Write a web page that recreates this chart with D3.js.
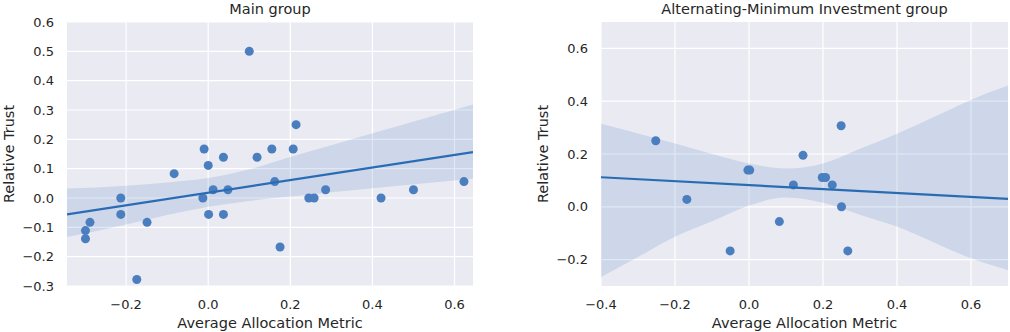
<!DOCTYPE html>
<html>
<head>
<meta charset="utf-8">
<script src="https://cdn.jsdelivr.net/npm/d3@7"></script>
<style>
  body { margin: 0; background: #fff; }
  text { font-family: "DejaVu Sans", sans-serif; fill: #262626; }
</style>
</head>
<body>
<script>
  // Main group data
  const mainX = [0.1, -0.01, 0.0, 0.037, 0.119, 0.155, 0.207, 0.214,
    -0.083, -0.213, -0.213, -0.149, -0.288, -0.299, -0.299, -0.174,
    -0.013, 0.001, 0.012, 0.048, 0.037, 0.162, 0.175, 0.245, 0.258, 0.286,
    0.421, 0.5, 0.623];
  const mainY = [0.5, 0.167, 0.111, 0.139, 0.139, 0.167, 0.167, 0.25,
    0.083, 0, -0.056, -0.083, -0.083, -0.111, -0.139, -0.278,
    0, -0.056, 0.028, 0.028, -0.056, 0.056, -0.167, 0, 0, 0.028,
    0, 0.028, 0.056];

  // confidence band of the main group
  const mainCiX = [-0.344, -0.2, -0.1, 0, 0.1, 0.2, 0.3, 0.45, 0.645];
  const mainCiHigh = [0.032, 0.042, 0.053, 0.068, 0.098, 0.14, 0.18, 0.24, 0.319];
  const mainCiLow = [-0.133, -0.09, -0.058, -0.03, -0.01, 0.005, 0.02, 0.04, 0.066];

  // Alternating-Minimum Investment group data
  const altX = [-0.252, -0.003, 0.002, 0.249, 0.146, -0.168, -0.051,
    0.12, 0.198, 0.207, 0.225, 0.25, 0.082, 0.267];
  const altY = [0.25, 0.139, 0.139, 0.307, 0.195, 0.028, -0.167,
    0.083, 0.111, 0.111, 0.083, 0, -0.056, -0.167];

  const altCiX = [-0.4, -0.3, -0.2, -0.1, 0, 0.1, 0.2, 0.3, 0.4, 0.5, 0.6, 0.7];
  const altCiHigh = [0.315, 0.278, 0.24, 0.2, 0.164, 0.145, 0.164, 0.22, 0.277, 0.34, 0.405, 0.459];
  const altCiLow = [-0.266, -0.19, -0.113, -0.055, 0.005, 0.035, 0.015, -0.03, -0.075, -0.135, -0.195, -0.239];

  const mainXTicks = [-0.2, 0.0, 0.2, 0.4, 0.6];
  const mainYTicks = [-0.3, -0.2, -0.1, 0.0, 0.1, 0.2, 0.3, 0.4, 0.5, 0.6];
  const altXTicks = [-0.4, -0.2, 0.0, 0.2, 0.4, 0.6];
  const altYTicks = [-0.2, 0.0, 0.2, 0.4, 0.6];

  const lineColor = "#2a6cb4";
  const dotColor = "#4a7ebf";

  var svg = d3.select("body")
    .append("svg")
    .attr("width", 1010)
    .attr("height", 332);

  var fmt = d3.format(".1f");

  function panel(opt) {
    var x = d3.scaleLinear().domain(opt.xDomain).range([opt.left, opt.right]);
    var y = d3.scaleLinear().domain(opt.yDomain).range([opt.bottom, opt.top]);
    var g = svg.append("g");

    // grey face
    g.append("rect")
      .attr("x", opt.left)
      .attr("y", opt.top)
      .attr("width", opt.right - opt.left)
      .attr("height", opt.bottom - opt.top)
      .attr("fill", "#eaeaf2");

    g.append("clipPath")
      .attr("id", opt.id)
      .append("rect")
      .attr("x", opt.left)
      .attr("y", opt.top)
      .attr("width", opt.right - opt.left)
      .attr("height", opt.bottom - opt.top);

    // white grid
    g.selectAll(".gx")
      .data(opt.xTicks)
      .enter()
      .append("line")
      .attr("x1", d => x(d)).attr("x2", d => x(d))
      .attr("y1", opt.top).attr("y2", opt.bottom)
      .attr("stroke", "#fff")
      .attr("stroke-width", 1.2);
    g.selectAll(".gy")
      .data(opt.yTicks)
      .enter()
      .append("line")
      .attr("x1", opt.left).attr("x2", opt.right)
      .attr("y1", d => y(d)).attr("y2", d => y(d))
      .attr("stroke", "#fff")
      .attr("stroke-width", 1.2);

    var inner = g.append("g").attr("clip-path", "url(#" + opt.id + ")");

    // confidence band
    var band = opt.ciX.map((v, i) => ({ x: v, lo: opt.ciLow[i], hi: opt.ciHigh[i] }));
    inner.append("path")
      .datum(band)
      .attr("fill", lineColor)
      .attr("fill-opacity", 0.15)
      .attr("d", d3.area()
        .curve(d3.curveMonotoneX)
        .x(d => x(d.x))
        .y0(d => y(d.lo))
        .y1(d => y(d.hi)));

    // least squares fit
    var mx = d3.mean(opt.xs), my = d3.mean(opt.ys);
    var sxy = d3.sum(opt.xs, (v, i) => (v - mx) * (opt.ys[i] - my));
    var sxx = d3.sum(opt.xs, v => (v - mx) * (v - mx));
    var slope = sxy / sxx;
    var icpt = my - slope * mx;

    // points
    var pts = opt.xs.map((v, i) => ({ x: v, y: opt.ys[i] }));
    inner.selectAll("circle")
      .data(pts)
      .enter()
      .append("circle")
      .attr("cx", d => x(d.x))
      .attr("cy", d => y(d.y))
      .attr("r", 4.5)
      .attr("fill", dotColor);

    inner.append("path")
      .datum(opt.xDomain)
      .attr("fill", "none")
      .attr("stroke", lineColor)
      .attr("stroke-width", 2.2)
      .attr("d", d3.line()
        .x(d => x(d))
        .y(d => y(icpt + slope * d)));

    // tick labels
    g.selectAll(".tx")
      .data(opt.xTicks)
      .enter()
      .append("text")
      .attr("x", d => x(d))
      .attr("y", opt.bottom + 23)
      .attr("text-anchor", "middle")
      .attr("font-size", 13)
      .text(d => fmt(d));
    g.selectAll(".ty")
      .data(opt.yTicks)
      .enter()
      .append("text")
      .attr("x", opt.left - 13)
      .attr("y", d => y(d))
      .attr("dy", "0.35em")
      .attr("text-anchor", "end")
      .attr("font-size", 13)
      .text(d => fmt(d));

    // labels and title
    g.append("text")
      .attr("x", (opt.left + opt.right) / 2)
      .attr("y", 14)
      .attr("text-anchor", "middle")
      .attr("font-size", 14.5)
      .text(opt.title);
    g.append("text")
      .attr("x", (opt.left + opt.right) / 2)
      .attr("y", 328)
      .attr("text-anchor", "middle")
      .attr("font-size", 14.5)
      .text("Average Allocation Metric");
    g.append("text")
      .attr("transform", "translate(" + opt.ylabX + "," + ((opt.top + opt.bottom) / 2) + ") rotate(-90)")
      .attr("dy", "0.35em")
      .attr("text-anchor", "middle")
      .attr("font-size", 14.5)
      .text("Relative Trust");
  }

  panel({
    id: "clipMain", title: "Main group",
    left: 67, right: 473, top: 22, bottom: 286, ylabX: 8.5,
    xDomain: [-0.344, 0.645], yDomain: [-0.3, 0.6],
    xTicks: mainXTicks, yTicks: mainYTicks,
    xs: mainX, ys: mainY,
    ciX: mainCiX, ciLow: mainCiLow, ciHigh: mainCiHigh
  });

  panel({
    id: "clipAlt", title: "Alternating-Minimum Investment group",
    left: 601, right: 1008, top: 22, bottom: 286, ylabX: 543,
    xDomain: [-0.4, 0.7], yDomain: [-0.3, 0.7],
    xTicks: altXTicks, yTicks: altYTicks,
    xs: altX, ys: altY,
    ciX: altCiX, ciLow: altCiLow, ciHigh: altCiHigh
  });
</script>
</body>
</html>
